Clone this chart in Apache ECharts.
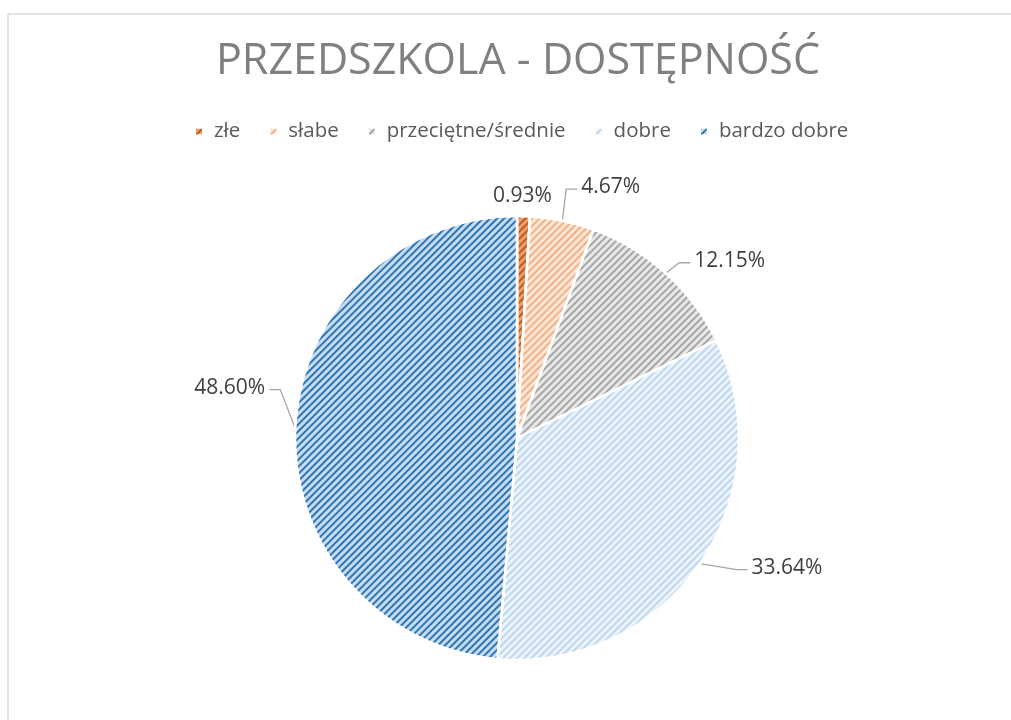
<!DOCTYPE html>
<html>
<head>
<meta charset="utf-8">
<script src="https://cdn.jsdelivr.net/npm/echarts@6/dist/echarts.min.js"></script>
<style>
html, body { margin: 0; padding: 0; background: #fff; }
#main { width: 1011px; height: 720px; }
</style>
</head>
<body>
<div id="main"></div>
<script>
var chart = echarts.init(document.getElementById('main'))

var categories = ['złe', 'słabe', 'przeciętne/średnie', 'dobre', 'bardzo dobre']
var counts = [1, 5, 13, 36, 52]
var baseColors = ['#e6a073', '#fce6d8', '#e8e8e8', '#edf3fb', '#c7dcf1']
var stripeColors = ['#c55a11', '#f4b183', '#a6a6a6', '#bdd7ee', '#2e75b6']
// przesunięcia etykiet względem domyślnego położenia
var labelShift = [[-58, -6], [-60, -38], [-3, -2], [13, -4], [11, -40]]

var total = 0
counts.forEach(function (c) { total += c })

var pieData = []
for (var i = 0; i < categories.length; i++) {
    pieData.push({
        name: categories[i],
        value: counts[i],
        labelLine: { show: i !== 0 },
        itemStyle: {
            color: baseColors[i],
            decal: {
                symbol: 'rect',
                symbolSize: 1,
                color: stripeColors[i],
                dashArrayX: [1, 0],
                dashArrayY: [1.2, 3],
                rotation: -Math.PI / 4
            }
        }
    })
}

var option = {
    backgroundColor: '#fff',
    title: {
        text: 'PRZEDSZKOLA - DOSTĘPNOŚĆ',
        left: 211,
        top: 35,
        textStyle: {
            fontFamily: 'Open Sans',
            fontSize: 43,
            fontWeight: 'normal',
            color: '#808080'
        }
    },
    legend: {
        top: 116,
        left: 189,
        itemWidth: 8,
        itemHeight: 8,
        itemGap: 28,
        icon: 'rect',
        data: categories,
        textStyle: {
            fontFamily: 'Open Sans',
            fontSize: 20.5,
            color: '#595959',
            padding: [0, 0, 0, 6]
        }
    },
    graphic: [{
        type: 'rect',
        shape: { x: 8, y: 14, width: 1020, height: 720 },
        style: { fill: 'none', stroke: '#d9d9d9', lineWidth: 1.5 },
        silent: true
    }],
    series: [{
        name: 'dostępność',
        type: 'pie',
        center: [517, 438],
        radius: 222,
        startAngle: 90,
        clockwise: true,
        data: pieData,
        itemStyle: {
            borderColor: '#fff',
            borderWidth: 2.5
        },
        label: {
            show: true,
            formatter: function (p) {
                return (p.value / total * 100).toFixed(2) + '%'
            },
            fontFamily: 'Open Sans',
            fontSize: 21,
            color: '#404040'
        },
        labelLine: {
            show: true,
            length: 14,
            length2: 22,
            lineStyle: { color: '#a6a6a6', width: 1.3 }
        },
        labelLayout: function (params) {
            var i = params.dataIndex
            var s = labelShift[i]
            var res = { dx: s[0], dy: s[1] }
            var pts = params.labelLinePoints
            if (!pts || i === 0) return res
            var r = params.labelRect
            var nx = r.x + s[0], ny = r.y + s[1]
            var cy = ny + r.height / 2 + 2
            var p2, p1
            if (i === 4) {
                p2 = [nx + r.width + 4, cy]
                p1 = [p2[0] + 11, cy]
            } else {
                p2 = [nx - 4, cy]
                p1 = [p2[0] - 11, cy]
            }
            res.labelLinePoints = [pts[0], p1, p2]
            return res
        },
        emphasis: { disabled: true }
    }]
}

chart.setOption(option, true)
</script>
</body>
</html>
